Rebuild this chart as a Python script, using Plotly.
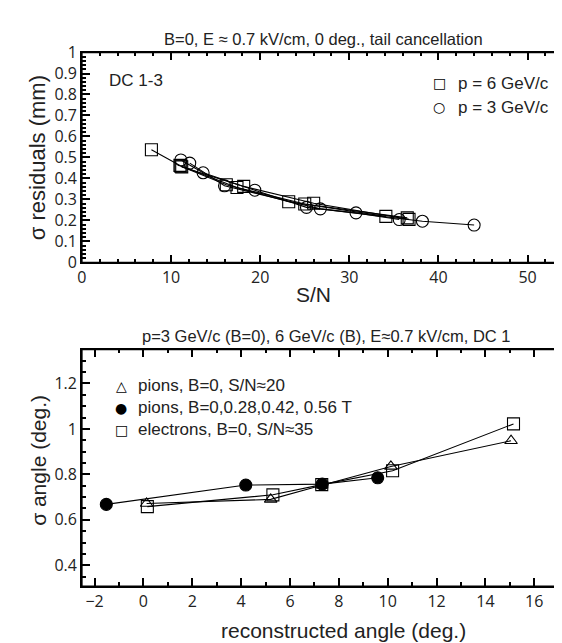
import plotly.graph_objects as go

FONT = "Liberation Sans, Arial, Helvetica, sans-serif"
SYM_FONT = "DejaVu Sans"
INK = "#222222"

# ---- top panel: sigma residuals vs S/N (DC 1-3) ----
sn_6gev_a = [7.8, 11.0, 17.4, 25.0, 36.5]
res_6gev_a = [0.537, 0.462, 0.357, 0.278, 0.212]
sn_6gev_b = [11.1, 16.2, 23.2, 34.1]
res_6gev_b = [0.458, 0.370, 0.289, 0.219]
sn_6gev_c = [11.2, 18.15, 26.0, 36.7]
res_6gev_c = [0.455, 0.362, 0.282, 0.205]

sn_3gev_a = [11.1, 13.6, 19.4, 25.2, 30.75, 35.6]
res_3gev_a = [0.488, 0.427, 0.344, 0.262, 0.236, 0.204]
sn_3gev_b = [12.1, 16.0, 26.75, 38.2, 44.0]
res_3gev_b = [0.473, 0.365, 0.255, 0.196, 0.178]

# ---- bottom panel: sigma angle vs reconstructed angle (DC 1) ----
ang_pions_b0 = [0.13, 5.21, 7.3, 10.13, 15.05]
sig_pions_b0 = [0.672, 0.690, 0.752, 0.835, 0.948]
ang_pions_b = [-1.52, 4.19, 7.32, 9.59]
sig_pions_b = [0.668, 0.753, 0.757, 0.785]
ang_electrons = [0.16, 5.3, 7.3, 10.2, 15.15]
sig_electrons = [0.658, 0.710, 0.755, 0.816, 1.022]

# legend keys: (symbol glyph, label)
top_keys = [("□", "p = 6 GeV/c"), ("○", "p = 3 GeV/c")]
bottom_keys = [("△", "pions, B=0, S/N≈20"),
               ("●", "pions, B=0,0.28,0.42, 0.56 T"),
               ("□", "electrons, B=0, S/N≈35")]

W, H = 562, 643


def px_x(p):
    return p / W


def px_y(p):
    return 1 - p / H


fig = go.Figure()


def add_line(x, y, symbol, size, xa, ya):
    fig.add_trace(
        go.Scatter(
            x=x, y=y, xaxis=xa, yaxis=ya, mode="lines+markers",
            line=dict(color="black", width=1.1),
            marker=dict(symbol=symbol, size=size, color="black",
                        line=dict(color="black", width=1.1)),
            showlegend=False,
        )
    )


for x, y in [(sn_6gev_a, res_6gev_a), (sn_6gev_b, res_6gev_b), (sn_6gev_c, res_6gev_c)]:
    add_line(x, y, "square-open", 12, "x", "y")
for x, y in [(sn_3gev_a, res_3gev_a), (sn_3gev_b, res_3gev_b)]:
    add_line(x, y, "circle-open", 12, "x", "y")

add_line(ang_pions_b0, sig_pions_b0, "triangle-up-open", 11, "x2", "y2")
add_line(ang_electrons, sig_electrons, "square-open", 12, "x2", "y2")
add_line(ang_pions_b, sig_pions_b, "circle", 12, "x2", "y2")

x_dom = [px_x(69.5), px_x(557)]


def minor(dtick):
    return dict(ticks="inside", ticklen=4, tickcolor="black", dtick=dtick)


def axis_style(**kw):
    base = dict(
        showline=True, linecolor="black", linewidth=1.5, mirror="allticks",
        ticks="inside", ticklen=8, tickwidth=1.5, tickcolor="black",
        showgrid=False, zeroline=False,
        tickfont=dict(size=16, color=INK),
    )
    base.update(kw)
    return base


fig.update_layout(
    width=W, height=H,
    margin=dict(l=0, r=0, t=0, b=0),
    plot_bgcolor="white",
    showlegend=False,
    xaxis=axis_style(domain=x_dom, anchor="y", range=[0, 54.2], dtick=10, minor=minor(2)),
    yaxis=axis_style(domain=[px_y(252), px_y(34.7)], anchor="x", range=[0, 1], dtick=0.1,
                     minor=minor(0.02)),
    xaxis2=axis_style(domain=x_dom, anchor="y2", range=[-2.52, 17.26],
                      dtick=2, minor=minor(1)),
    yaxis2=axis_style(domain=[px_y(587.3), px_y(342.3)], anchor="x2", range=[0.308, 1.349],
                      dtick=0.2, minor=minor(0.05)),
)

# plot frames (drawn as well in case the mirrored axis lines are dropped)
for xr, yr in [("x domain", "y domain"), ("x2 domain", "y2 domain")]:
    fig.add_shape(type="rect", xref=xr, yref=yr, x0=0, x1=1, y0=0, y1=1,
                  line=dict(color="black", width=1.5), layer="above")

annotations = [
    ("B=0, E ≈ 0.7 kV/cm, 0 deg., tail cancellation", 313, 20.7, 16.5, 0),
    ("DC 1-3", 123.7, 63.3, 17, 0),
    ("S/N", 303, 285, 21, 0),
    ("σ residuals (mm)", 25, 143.3, 22, -90),
    ("p=3 GeV/c (B=0), 6 GeV/c (B), E≈0.7 kV/cm, DC 1", 316, 328.3, 16.5, 0),
    ("reconstructed angle (deg.)", 333, 633, 21, 0),
    ("σ angle (deg.)", 25, 456.7, 21, -90),
]
for text, ax, ay, size, angle in annotations:
    fig.add_annotation(
        text=text, x=px_x(ax), y=px_y(ay), xref="paper", yref="paper",
        xanchor="center", yanchor="middle", showarrow=False, textangle=angle,
        font=dict(family=FONT, size=size, color=INK),
    )

# hand-placed legends (symbol + label), as in the original figure
for rows, sym_x, text_x, y0, step, size in [
    (top_keys, 430, 446.6, 66.4, 25, 17),
    (bottom_keys, 109, 124.4, 379.7, 22.7, 17),
]:
    for i, (sym, label) in enumerate(rows):
        y = y0 + i * step
        fig.add_annotation(
            text=sym, x=px_x(sym_x), y=px_y(y), xref="paper", yref="paper",
            xanchor="center", yanchor="middle", showarrow=False,
            font=dict(family=SYM_FONT, size=14, color="black"),
        )
        fig.add_annotation(
            text=label, x=px_x(text_x), y=px_y(y), xref="paper", yref="paper",
            xanchor="left", yanchor="middle", showarrow=False,
            font=dict(family=FONT, size=size, color=INK),
        )

fig.write_html("out.html")
